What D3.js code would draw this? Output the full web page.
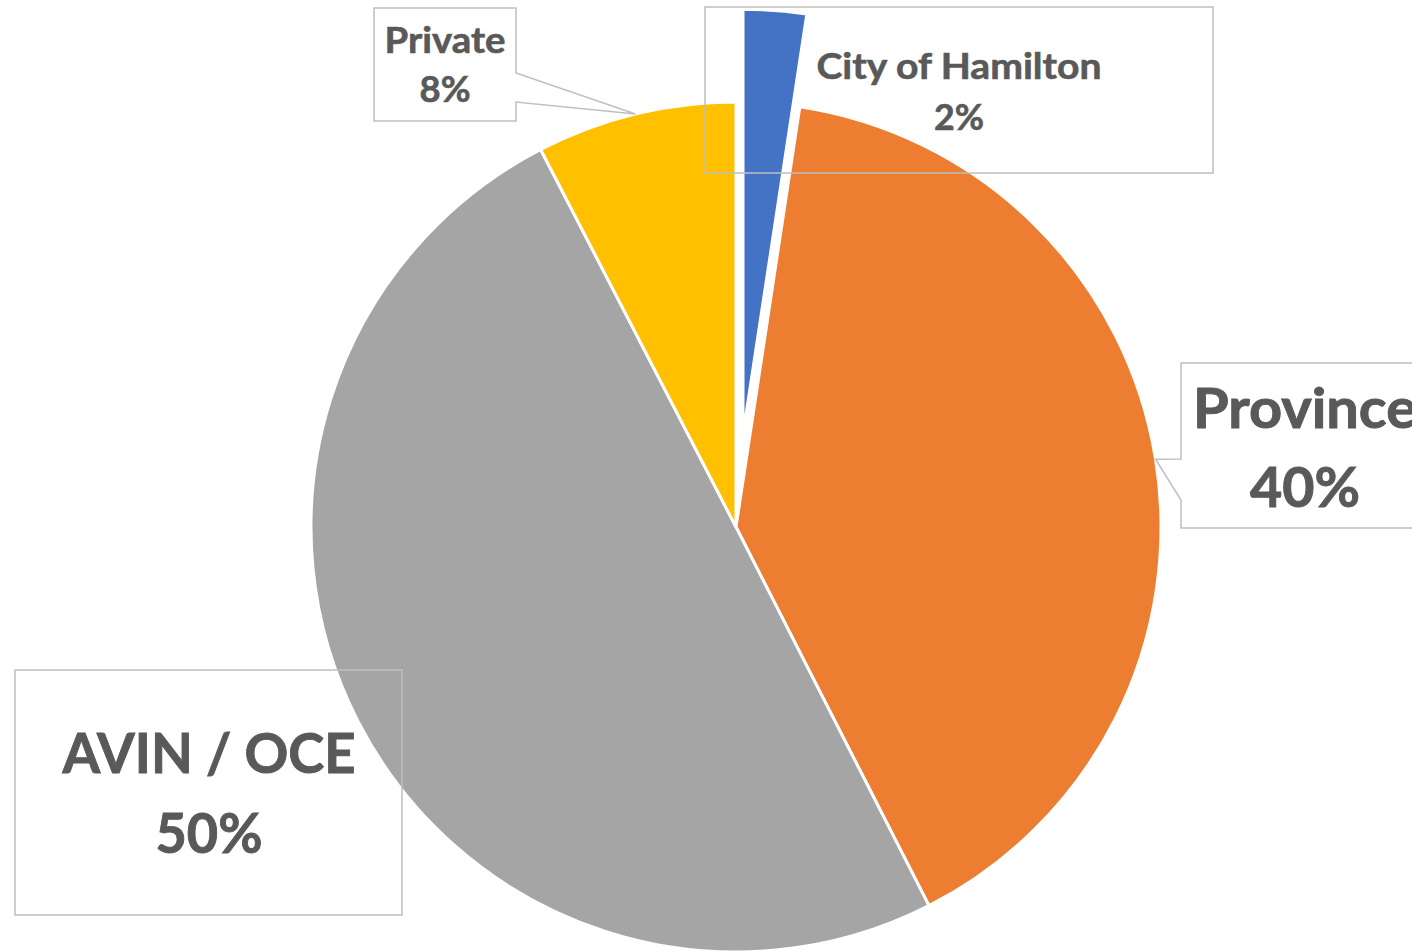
<!DOCTYPE html>
<html>
<head>
<meta charset="utf-8">
<script src="https://cdn.jsdelivr.net/npm/d3@7"></script>
<style>
  body { margin: 0; background: #fff; }
  #chart-area text { font-family: Lato, "Open Sans", sans-serif; font-weight: 700; fill: #595959; stroke: #595959; }
</style>
</head>
<body>
<div id="chart-area"></div>
<script>

// Data
var categories = ["City of Hamilton", "Province", "AVIN / OCE", "Private"];
var shares = [2.4, 40.1, 49.9, 7.6];
var percentLabels = ["2%", "40%", "50%", "8%"];

var colors = ["#4472C4", "#ED7D31", "#A5A5A5", "#FFC000"];

var width = 1412,
    height = 952;

var cx = 736, cy = 527, radius = 425;
var explode = 93; // only the first slice is pulled out

// label boxes (layout only)
var boxes = [
  {x0: 705, y0: 7, x1: 1213, y1: 173, cx: 959, base: [79, 130], w: [285, 50], size: 37},
  {x0: 1181, y0: 363, x1: 1432, y1: 528, cx: 1305, base: [428, 507], w: [224, 110], size: 55, pointer: "left", p: [459, 500]},
  {x0: 15, y0: 670, x1: 402, y1: 915, cx: 209, base: [773, 853], w: [293, 107], size: 55},
  {x0: 374, y0: 8, x1: 516, y1: 121, cx: 445, base: [53, 102], w: [121, 51], size: 37, pointer: "right", p: [73, 102]}
];

var data = categories.map(function(c, i) {
  return {name: c, value: shares[i], label: percentLabels[i], color: colors[i], box: boxes[i]};
});

var svg = d3.select("#chart-area").append("svg")
    .attr("width", width)
    .attr("height", height);

var pie = d3.pie()
    .sort(null)
    .value(function(d) { return d.value; });

var arc = d3.arc()
    .innerRadius(0)
    .outerRadius(radius);

var edge = d3.arc()
    .innerRadius(radius)
    .outerRadius(radius);

var arcs = pie(data);

var g = svg.append("g")
    .attr("transform", "translate(" + cx + "," + cy + ")");

g.selectAll("path.slice")
    .data(arcs)
  .enter().append("path")
    .attr("class", "slice")
    .attr("d", arc)
    .attr("fill", function(d) { return d.data.color; })
    .attr("stroke", "#fff")
    .attr("stroke-width", 3)
    .attr("stroke-linejoin", "round")
    .attr("transform", function(d, i) {
      if (i != 0) return null;
      var a = (d.startAngle + d.endAngle) / 2;
      return "translate(" + (Math.sin(a) * explode) + "," + (-Math.cos(a) * explode) + ")";
    });

// callout boxes, pointer tip sits on the slice edge at its middle angle
function boxPath(d) {
  var b = d.data.box;
  var tip = edge.centroid(d);
  var tx = tip[0] + cx, ty = tip[1] + cy;
  if (b.pointer == "right") {
    return "M" + b.x0 + "," + b.y0 + "H" + b.x1 + "V" + b.p[0] +
      "L" + tx + "," + ty + "L" + b.x1 + "," + b.p[1] +
      "V" + b.y1 + "H" + b.x0 + "Z";
  }
  if (b.pointer == "left") {
    return "M" + b.x0 + "," + b.y0 + "H" + b.x1 + "V" + b.y1 + "H" + b.x0 +
      "V" + b.p[1] + "L" + tx + "," + ty + "L" + b.x0 + "," + b.p[0] + "Z";
  }
  return "M" + b.x0 + "," + b.y0 + "H" + b.x1 + "V" + b.y1 + "H" + b.x0 + "Z";
}

svg.selectAll("path.box")
    .data(arcs)
  .enter().append("path")
    .attr("class", "box")
    .attr("d", boxPath)
    .attr("fill", "none")
    .attr("stroke", "#BFBFBF")
    .attr("stroke-width", 1.5);

var labels = svg.selectAll("g.label")
    .data(arcs)
  .enter().append("g")
    .attr("class", "label");

labels.append("text")
    .attr("x", function(d) { return d.data.box.cx; })
    .attr("y", function(d) { return d.data.box.base[0]; })
    .attr("text-anchor", "middle")
    .attr("font-size", function(d) { return d.data.box.size; })
    .attr("stroke-width", function(d) { return d.data.box.size / 60; })
    .attr("textLength", function(d) { return d.data.box.w[0]; })
    .attr("lengthAdjust", "spacingAndGlyphs")
    .text(function(d) { return d.data.name; });

labels.append("text")
    .attr("x", function(d) { return d.data.box.cx; })
    .attr("y", function(d) { return d.data.box.base[1]; })
    .attr("text-anchor", "middle")
    .attr("font-size", function(d) { return d.data.box.size; })
    .attr("stroke-width", function(d) { return d.data.box.size / 60; })
    .attr("textLength", function(d) { return d.data.box.w[1]; })
    .attr("lengthAdjust", "spacingAndGlyphs")
    .text(function(d) { return d.data.label; });

</script>
</body>
</html>
